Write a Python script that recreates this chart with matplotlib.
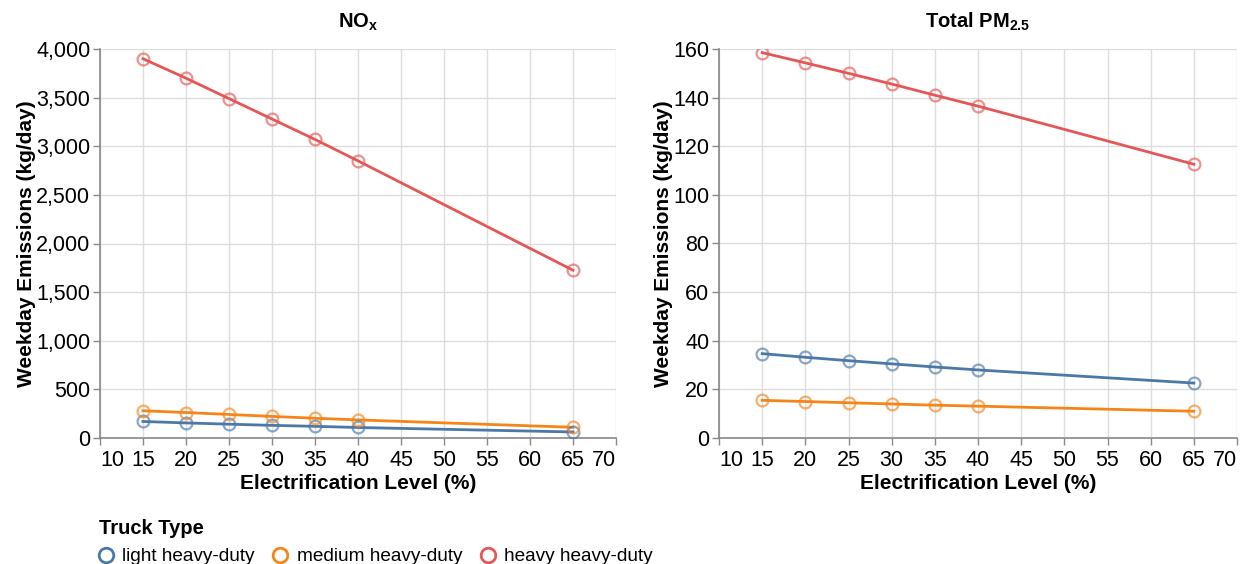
import numpy as np
import matplotlib.pyplot as plt
from matplotlib.ticker import FuncFormatter
from matplotlib.lines import Line2D

plt.rcParams["font.family"] = ["Liberation Sans", "DejaVu Sans"]
plt.rcParams["mathtext.fontset"] = "custom"
plt.rcParams["mathtext.rm"] = "Liberation Sans:bold"
plt.rcParams["mathtext.it"] = "Liberation Sans:bold"
plt.rcParams["mathtext.bf"] = "Liberation Sans:bold"

levels = [15, 20, 25, 30, 35, 40, 65]
truck_types = ["light heavy-duty", "medium heavy-duty", "heavy heavy-duty"]
colors = ["#4c78a8", "#f58518", "#e45756"]

nox_light = [170, 155, 142, 130, 120, 108, 62]
nox_medium = [280, 262, 242, 222, 203, 186, 110]
nox_heavy = [3900, 3700, 3490, 3280, 3070, 2850, 1725]

pm_light = [34.7, 33.2, 31.8, 30.5, 29.2, 28.0, 22.6]
pm_medium = [15.5, 15.0, 14.5, 14.0, 13.5, 13.1, 11.0]
pm_heavy = [158.5, 154.3, 150.0, 145.6, 141.0, 136.5, 112.6]

x_ticks = list(range(10, 75, 5))

panels = [
    ("NO$_{x}$", [nox_light, nox_medium, nox_heavy], 4000, 500),
    ("Total PM$_{2.5}$", [pm_light, pm_medium, pm_heavy], 160, 20),
]

fig = plt.figure(figsize=(12.41, 5.64), dpi=100)
W, H = 1241, 564
axes_px = [(100, 516), (719, 518)]
top, bottom = 49, 438

for (title, series, ymax, ystep), (x0, w) in zip(panels, axes_px):
    ax = fig.add_axes([x0 / W, 1 - bottom / H, w / W, (bottom - top) / H])
    for vals, c in zip(series, colors):
        ax.plot(levels, vals, color=c, lw=2.0, zorder=3)
        ax.plot(levels, vals, ls="none", marker="o", ms=8.5, mfc="none",
                mec=c, mew=1.6, alpha=0.65, zorder=4)

    ax.set_xlim(10, 70)
    ax.set_ylim(0, ymax)
    ax.set_xticks(x_ticks)
    ax.set_yticks(np.arange(0, ymax + ystep, ystep))
    ax.yaxis.set_major_formatter(FuncFormatter(lambda v, p: f"{v:,.0f}"))
    ax.grid(True, color="#dddddd", lw=1.0, zorder=0)
    ax.set_axisbelow(True)
    for side in ["top", "right"]:
        ax.spines[side].set_visible(False)
    for side in ["left", "bottom"]:
        ax.spines[side].set_color("#888888")
        ax.spines[side].set_linewidth(1.2)
    ax.tick_params(colors="#888888", length=5, width=1.0, labelsize=15.5,
                   labelcolor="black", pad=2)
    ax.tick_params(axis="x", pad=4)
    ax.set_xlabel("Electrification Level (%)", fontsize=15, fontweight="bold", labelpad=2)
    ax.set_ylabel("Weekday Emissions (kg/day)", fontsize=15, fontweight="bold", labelpad=0)
    ax.set_title(title, fontsize=14.5, fontweight="bold", pad=15)

    # first and last x labels sit flush with the plot edges
    xl = ax.get_xticklabels()
    xl[0].set_ha("left")
    xl[-1].set_ha("right")

handles = [Line2D([], [], ls="none", marker="o", ms=10.5, mfc="none", mec=c, mew=2)
           for c in colors]
leg = fig.legend(handles, truck_types, title="Truck Type", ncol=3,
                 loc="upper left", bbox_to_anchor=(89 / W, 1 - 509 / H),
                 frameon=False, fontsize=13.7, title_fontproperties={"weight": "bold", "size": 14.5},
                 handlelength=0.8, handletextpad=0.45, columnspacing=0.95,
                 borderpad=0, labelspacing=0.55)
leg._legend_box.align = "left"

fig.savefig("out.png", dpi=100)
